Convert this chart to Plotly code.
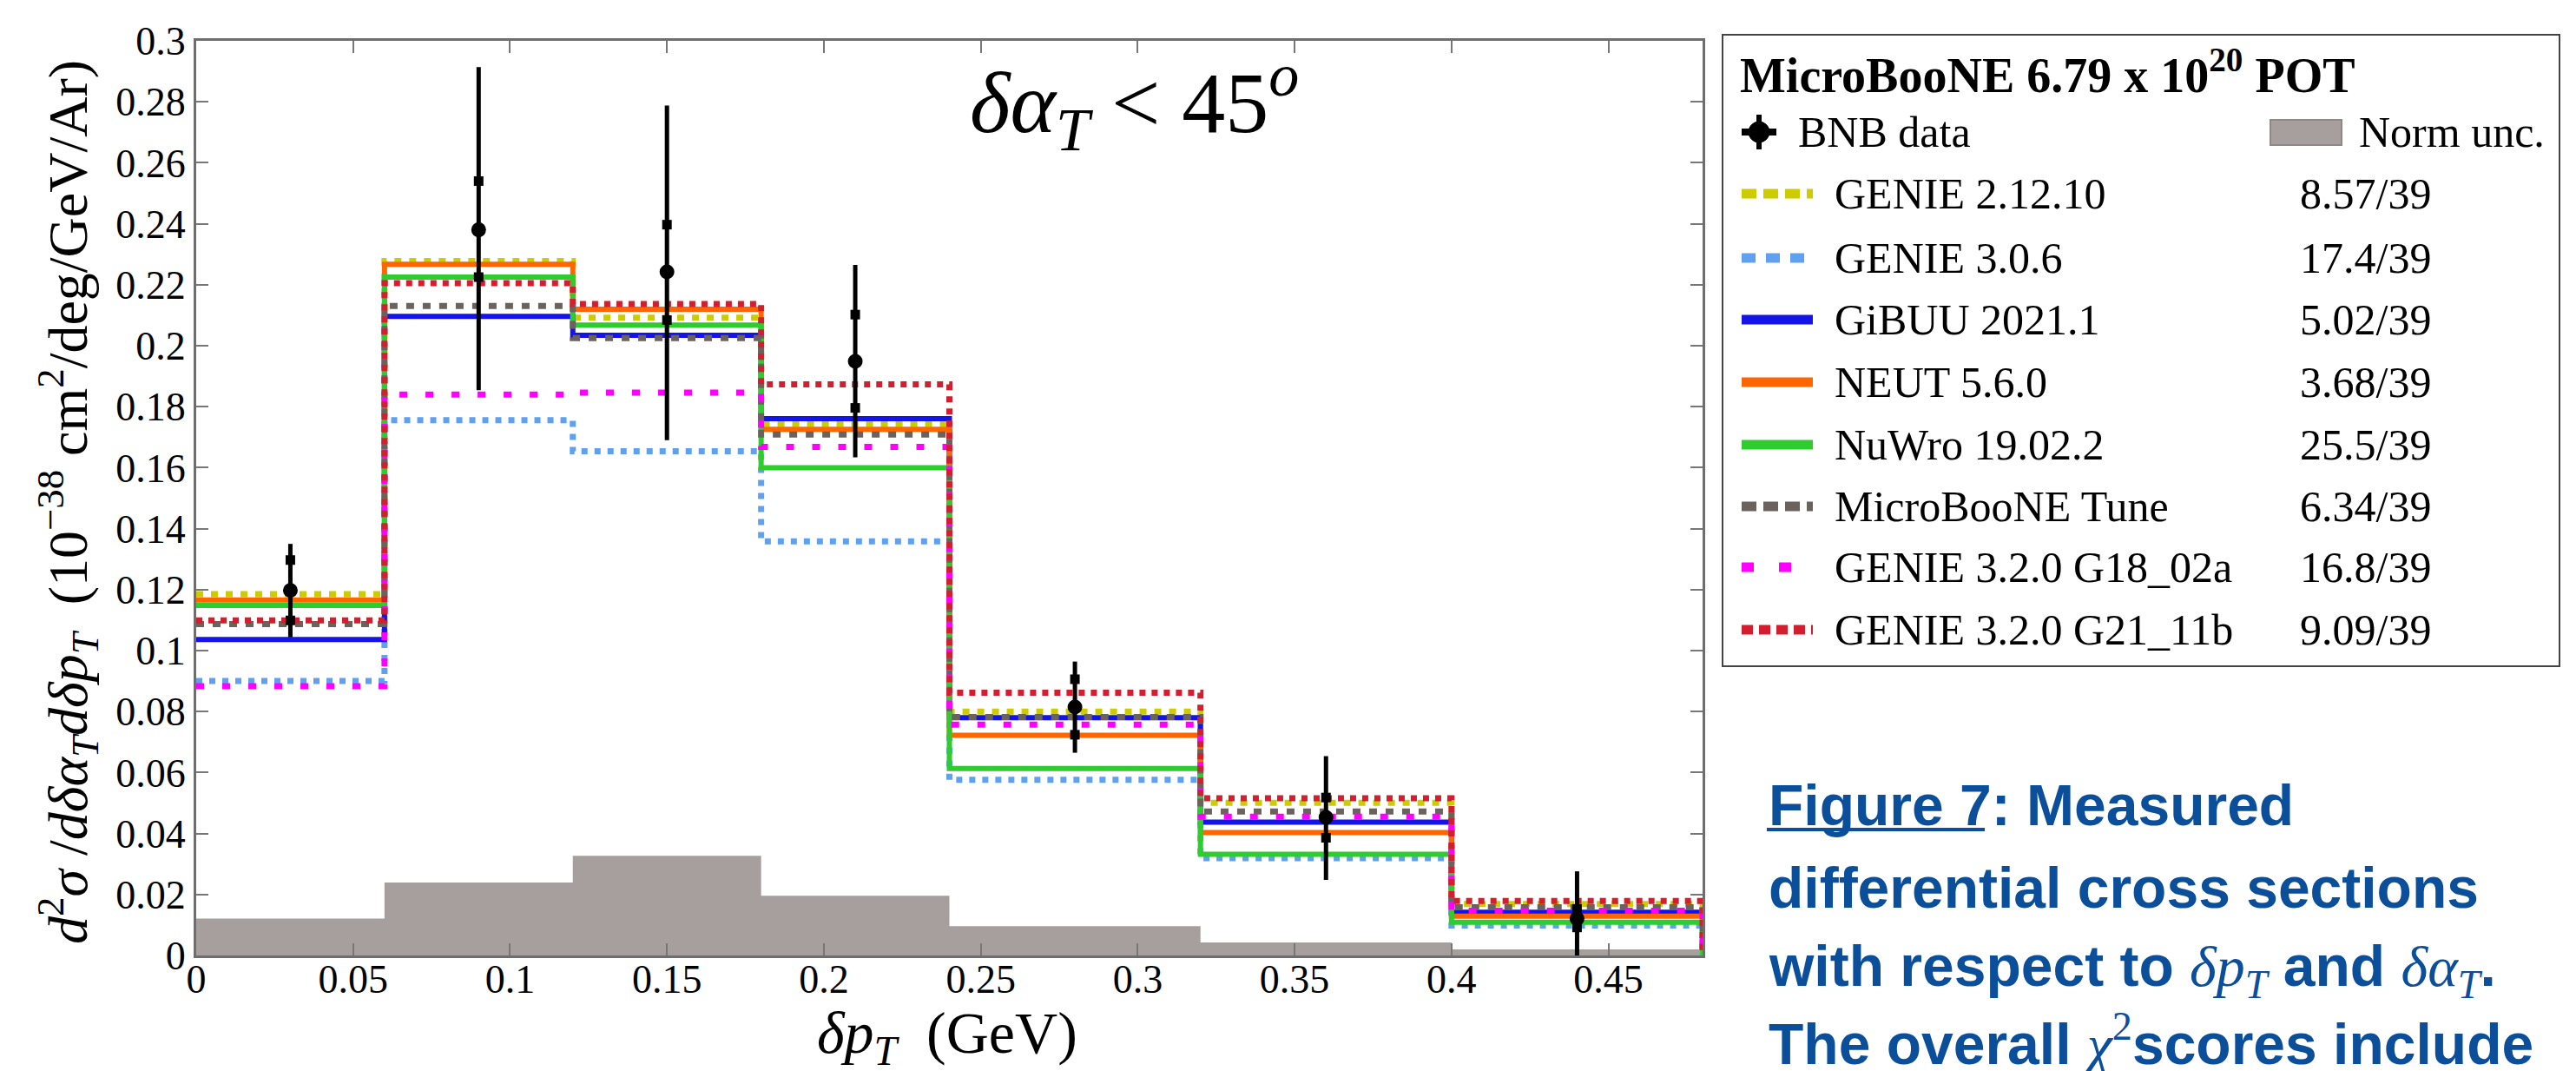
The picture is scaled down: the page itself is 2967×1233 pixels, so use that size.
import plotly.graph_objects as go

# ---------------- data ----------------
bin_edges = [0.0, 0.06, 0.12, 0.18, 0.24, 0.32, 0.40, 0.48]
bin_centers = [0.03, 0.09, 0.15, 0.21, 0.28, 0.36, 0.44]

data_xsec = [0.1197, 0.2380, 0.2242, 0.1949, 0.0815, 0.0453, 0.0121]
stat_up = [0.1297, 0.2540, 0.2397, 0.2102, 0.0906, 0.0518, 0.0153]
stat_dn = [0.1099, 0.2225, 0.2084, 0.1796, 0.0724, 0.0386, 0.0092]
tot_up = [0.1350, 0.2914, 0.2788, 0.2265, 0.0964, 0.0654, 0.0276]
tot_dn = [0.1044, 0.1854, 0.1690, 0.1634, 0.0665, 0.0248, 0.0000]
norm_unc = [0.0121, 0.0239, 0.0327, 0.0196, 0.0096, 0.0043, 0.0020]

genie_2_12_10 = [0.1185, 0.2278, 0.2092, 0.1743, 0.0800, 0.0501, 0.0169]
genie_3_0_6 = [0.0900, 0.1756, 0.1654, 0.1358, 0.0576, 0.0319, 0.0098]
gibuu_2021_1 = [0.1036, 0.2096, 0.2034, 0.1761, 0.0780, 0.0437, 0.0142]
neut_5_6_0 = [0.1166, 0.2267, 0.2120, 0.1726, 0.0722, 0.0403, 0.0129]
nuwro_19_02_2 = [0.1148, 0.2225, 0.2068, 0.1600, 0.0613, 0.0332, 0.0109]
uboone_tune = [0.1087, 0.2130, 0.2025, 0.1709, 0.0782, 0.0472, 0.0158]
genie_g18_02a = [0.0883, 0.1840, 0.1846, 0.1668, 0.0757, 0.0455, 0.0147]
genie_g21_11b = [0.1099, 0.2205, 0.2137, 0.1873, 0.0862, 0.0516, 0.0179]

model_names = ["GENIE 2.12.10", "GENIE 3.0.6", "GiBUU 2021.1", "NEUT 5.6.0",
               "NuWro 19.02.2", "MicroBooNE Tune", "GENIE 3.2.0 G18_02a",
               "GENIE 3.2.0 G21_11b"]
model_values = [genie_2_12_10, genie_3_0_6, gibuu_2021_1, neut_5_6_0,
                nuwro_19_02_2, uboone_tune, genie_g18_02a, genie_g21_11b]
chi2_labels = ["8.57/39", "17.4/39", "5.02/39", "3.68/39", "25.5/39",
               "6.34/39", "16.8/39", "9.09/39"]

x_tickvals = [0, 0.05, 0.1, 0.15, 0.2, 0.25, 0.3, 0.35, 0.4, 0.45]
x_ticktext = ["0", "0.05", "0.1", "0.15", "0.2", "0.25", "0.3", "0.35", "0.4", "0.45"]
y_tickvals = [0, 0.02, 0.04, 0.06, 0.08, 0.1, 0.12, 0.14, 0.16, 0.18, 0.2,
              0.22, 0.24, 0.26, 0.28, 0.3]
y_ticktext = ["0", "0.02", "0.04", "0.06", "0.08", "0.1", "0.12", "0.14", "0.16",
              "0.18", "0.2", "0.22", "0.24", "0.26", "0.28", "0.3"]

# ---------------- styles ----------------
model_colors = ["#CCCC00", "#5FA0F0", "#1414E8", "#FF6600", "#2ECC2E",
                "#6B625E", "#FF00FF", "#D11F30"]
model_dash = ["8px,9px", "7px,8px", "solid", "solid", "solid", "9px,10px",
              "9px,21px", "7px,7px"]
model_width = [7, 7, 6, 6, 6, 7, 7, 7]
legend_dash = ["17px,8px", "16px,12px", "solid", "solid", "solid", "17px,8px",
               "14px,29px", "13px,7px"]

SERIF = "Liberation Serif"
SANS = "Liberation Sans"

W_PAGE, H_PAGE = 2967, 1233
L, T, R, B = 226, 47, 1961, 1100
PW, PH = R - L, B - T


def PX(px):
    return (px - L) / PW


def PY(py):
    return (B - py) / PH


fig = go.Figure()

# normalisation uncertainty band
fig.add_trace(go.Scatter(
    x=bin_edges, y=norm_unc + [norm_unc[-1]], mode="lines", line_shape="hv",
    line=dict(width=0, color="#A69F9D"), fill="tozeroy", fillcolor="#A69F9D",
    showlegend=False, hoverinfo="skip"))

# model predictions as step histograms
for name, vals, col, dash, lw in zip(model_names, model_values, model_colors,
                                     model_dash, model_width):
    fig.add_trace(go.Scatter(
        x=bin_edges + [bin_edges[-1]], y=vals + [vals[-1], 0.0],
        mode="lines", line_shape="hv", name=name,
        line=dict(color=col, width=lw, dash=dash), showlegend=False))

# data: total error bars
fig.add_trace(go.Scatter(
    x=bin_centers, y=data_xsec, mode="markers",
    marker=dict(size=1, color="black"),
    error_y=dict(type="data", symmetric=False,
                 array=[u - d for u, d in zip(tot_up, data_xsec)],
                 arrayminus=[d - l for d, l in zip(data_xsec, tot_dn)],
                 thickness=5, width=0, color="black"),
    showlegend=False, hoverinfo="skip"))
# data: stat-only error markers
fig.add_trace(go.Scatter(
    x=bin_centers + bin_centers, y=stat_up + stat_dn, mode="markers",
    marker=dict(symbol="square", size=11, color="black"),
    showlegend=False, hoverinfo="skip"))
# data points
fig.add_trace(go.Scatter(
    x=bin_centers, y=data_xsec, mode="markers", name="BNB data",
    marker=dict(symbol="circle", size=17, color="black"), showlegend=False))

axis_common = dict(
    showgrid=False, zeroline=False, showline=True, linecolor="#6E6E6E",
    linewidth=3, mirror="ticks", ticks="inside", ticklen=14, tickwidth=2,
    tickcolor="#777777", tickfont=dict(family=SERIF, size=46, color="black"),
    automargin=False)

fig.update_xaxes(range=[0, 0.48], tickvals=x_tickvals, ticktext=x_ticktext,
                 ticklabelstandoff=-15, **axis_common)
fig.update_yaxes(range=[0, 0.3], tickvals=y_tickvals, ticktext=y_ticktext,
                 **axis_common)

shapes = []
annotations = []

# axis titles
annotations.append(dict(
    text="<i>δp</i><sub><i>T</i></sub>  (GeV)", xref="paper", yref="paper",
    x=PX(1091), y=PY(1193), xanchor="center", yanchor="middle", showarrow=False,
    font=dict(family=SERIF, size=68, color="black")))
annotations.append(dict(
    text="<i>d</i><sup>2</sup><i>σ</i> /<i>dδα</i><sub><i>T</i></sub><i>dδp</i><sub><i>T</i></sub>"
         "  (10<sup>−38</sup> cm<sup>2</sup>/deg/GeV/Ar)",
    xref="paper", yref="paper", x=PX(78), y=PY(578), xanchor="center",
    yanchor="middle", textangle=-90, showarrow=False,
    font=dict(family=SERIF, size=64, color="black")))

# in-plot label
annotations.append(dict(
    text="<i>δα</i><sub><i>T</i></sub> < 45<sup><i>o</i></sup>", xref="paper", yref="paper",
    x=PX(1306), y=PY(118), xanchor="center", yanchor="middle", showarrow=False,
    font=dict(family=SERIF, size=100, color="black")))

# ---------------- legend box ----------------
shapes.append(dict(type="rect", xref="paper", yref="paper",
                   x0=PX(1984), x1=PX(2948), y0=PY(767), y1=PY(40),
                   line=dict(color="#444444", width=2), fillcolor="white",
                   layer="below"))
annotations.append(dict(
    text="<b>MicroBooNE 6.79 x 10<sup>20</sup> POT</b>", xref="paper", yref="paper",
    x=PX(2002), y=PY(83), xanchor="left", yanchor="middle", showarrow=False,
    font=dict(family=SERIF, size=56, color="black")))

# BNB data symbol
bx, by = 2026, 152
shapes.append(dict(type="line", xref="paper", yref="paper", x0=PX(bx), x1=PX(bx),
                   y0=PY(by - 20), y1=PY(by + 20), line=dict(color="black", width=6)))
shapes.append(dict(type="line", xref="paper", yref="paper", x0=PX(bx - 20), x1=PX(bx + 20),
                   y0=PY(by), y1=PY(by), line=dict(color="black", width=8)))
shapes.append(dict(type="circle", xref="paper", yref="paper", x0=PX(bx - 12), x1=PX(bx + 12),
                   y0=PY(by + 12), y1=PY(by - 12), fillcolor="black",
                   line=dict(color="black", width=1)))
annotations.append(dict(
    text="BNB data", xref="paper", yref="paper", x=PX(2069), y=PY(by),
    xanchor="left", yanchor="middle", showarrow=False,
    font=dict(family=SERIF, size=50, color="black")))

# norm unc swatch
shapes.append(dict(type="rect", xref="paper", yref="paper",
                   x0=PX(2615), x1=PX(2697), y0=PY(167), y1=PY(138),
                   fillcolor="#A69F9D", line=dict(color="#8F8886", width=2)))
annotations.append(dict(
    text="Norm unc.", xref="paper", yref="paper", x=PX(2715), y=PY(by),
    xanchor="left", yanchor="middle", showarrow=False,
    font=dict(family=SERIF, size=50, color="black")))

row_y = [223, 297, 368, 440, 512, 583, 653, 725]
for name, chi2, col, dash, ry in zip(model_names, chi2_labels, model_colors,
                                     legend_dash, row_y):
    shapes.append(dict(type="line", xref="paper", yref="paper",
                       x0=PX(2006), x1=PX(2088), y0=PY(ry), y1=PY(ry),
                       line=dict(color=col, width=11, dash=dash)))
    annotations.append(dict(
        text=name, xref="paper", yref="paper", x=PX(2111), y=PY(ry),
        xanchor="left", yanchor="middle", showarrow=False,
        font=dict(family=SERIF, size=50, color="black")))
    annotations.append(dict(
        text=chi2, xref="paper", yref="paper", x=PX(2647), y=PY(ry),
        xanchor="left", yanchor="middle", showarrow=False,
        font=dict(family=SERIF, size=50, color="black")))

# ---------------- caption ----------------
BLUE = "#0B4E9A"
m = "<span style='font-family:Liberation Serif'><i>{}</i></span>"
caption_lines = [
    "<b>Figure 7: Measured</b>",
    "<b>differential cross sections</b>",
    "<b>with respect to </b>" + m.format("δp") + "<sub>" + m.format("T") + "</sub>"
    "<b> and </b>" + m.format("δα") + "<sub>" + m.format("T") + "</sub><b>.</b>",
    "<b>The overall </b>" + m.format("χ") + "<sup><span style='font-family:Liberation Serif'>2</span></sup>"
    "<b>scores include</b>",
]
caption_y = [927, 1022, 1117, 1197]
for txt, cy in zip(caption_lines, caption_y):
    annotations.append(dict(
        text=txt, xref="paper", yref="paper", x=PX(2035), y=PY(cy),
        xanchor="left", yanchor="middle", align="left", showarrow=False,
        font=dict(family=SANS, size=66, color=BLUE)))
shapes.append(dict(type="line", xref="paper", yref="paper",
                   x0=PX(2035), x1=PX(2286), y0=PY(955), y1=PY(955),
                   line=dict(color=BLUE, width=4)))

fig.update_layout(
    width=W_PAGE, height=H_PAGE,
    margin=dict(l=L, r=W_PAGE - R, t=T, b=H_PAGE - B, pad=0),
    paper_bgcolor="white", plot_bgcolor="white",
    showlegend=False, shapes=shapes, annotations=annotations)

fig.write_html("out.html", config={"displayModeBar": False})
